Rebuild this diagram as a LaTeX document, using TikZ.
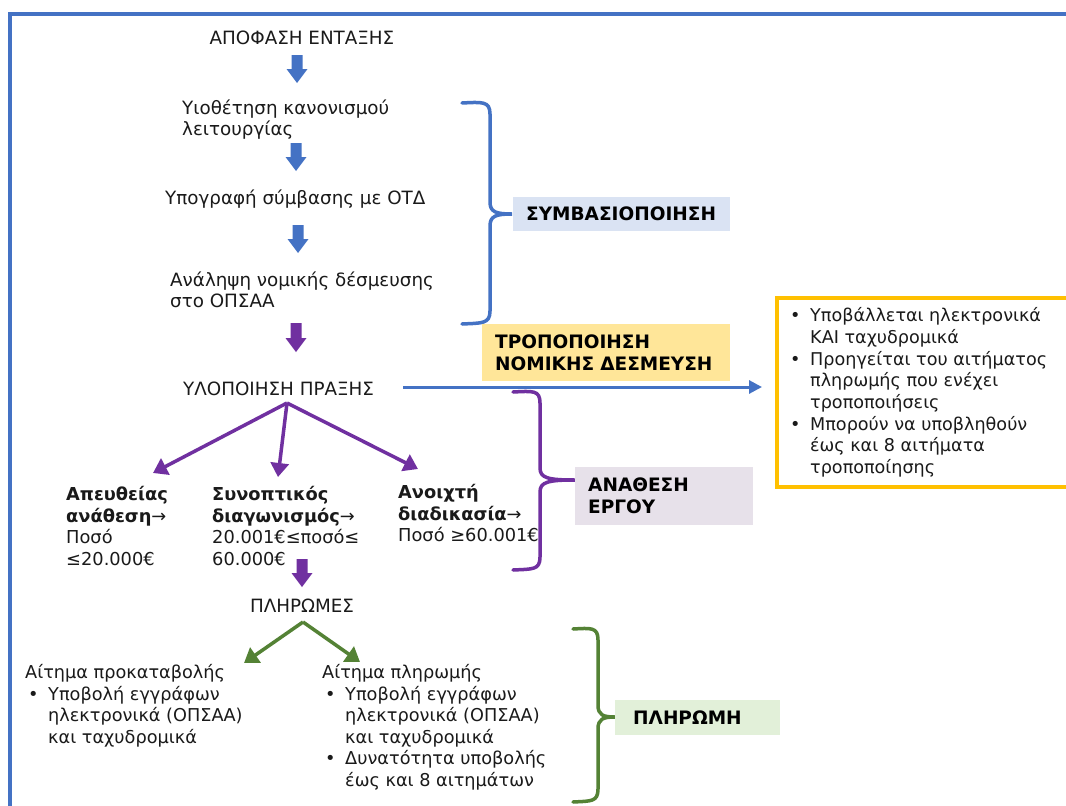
\documentclass[tikz,border=0pt]{standalone}
\usepackage{fontspec}
\setmainfont{DejaVu Sans}
\usetikzlibrary{arrows.meta}
\definecolor{cblue}{HTML}{4472C4}
\definecolor{cpurple}{HTML}{7030A0}
\definecolor{cgreen}{HTML}{548235}
\definecolor{cgold}{HTML}{FFC000}
\definecolor{lblue}{HTML}{DAE3F3}
\definecolor{lyellow}{HTML}{FFE699}
\definecolor{lpurple}{HTML}{E7E1EA}
\definecolor{lgreen}{HTML}{E2F0D9}
\definecolor{txt}{HTML}{1A1A1A}
\newcommand{\blkarrow}[4]{%
  \fill[#4] (#1-5.5,#2) -- (#1+5.5,#2) -- (#1+5.5,#3-14) -- (#1+10.5,#3-14) -- (#1,#3) -- (#1-10.5,#3-14) -- (#1-5.5,#3-14) -- cycle;}
\newcommand{\bul}{\makebox[23pt][l]{\hspace{3pt}•}}
\newcommand{\ind}{\hspace*{23pt}}
\begin{document}
\begin{tikzpicture}[x=1pt,y=-1pt,
  flow/.style={font=\fontsize{18.3}{21.5}\selectfont, text=txt, inner sep=0pt, align=left},
  gflow/.style={font=\fontsize{17.6}{21.7}\selectfont, text=txt, inner sep=0pt, align=left},
  pflow/.style={font=\fontsize{17.8}{21.5}\selectfont, text=txt, inner sep=0pt, align=left},
  bflow/.style={font=\fontsize{17.7}{21.5}\selectfont, text=txt, inner sep=0pt, align=left},
  lab/.style={font=\fontsize{18.5}{22}\selectfont\bfseries, text=black, inner xsep=13pt, inner ysep=0pt, align=left, anchor=north west},
  thin/.style={line width=3.5pt, -{Triangle[length=14pt,width=18pt]}},
  brace/.style={line width=3.5pt, line cap=round}
]
\useasboundingbox (0,0) rectangle (1066,806);
\clip (0,0) rectangle (1066,806);
\fill[white] (0,0) rectangle (1066,806);
% frame
\draw[cblue, line width=4pt] (10,812) -- (10,14) -- (1072,14);

% flow texts
\node[flow, anchor=base] (apof) at (302,44) {ΑΠΟΦΑΣΗ ΕΝΤΑΞΗΣ};
\node[flow, anchor=north west] (yio) at (182,99.5) {Υιοθέτηση κανονισμού\\λειτουργίας};
\node[flow, anchor=base west] (ypo) at (165,204) {Υπογραφή σύμβασης με ΟΤΔ};
\node[flow, anchor=north west] (anal) at (170,271.5) {Ανάληψη νομικής δέσμευσης\\στο ΟΠΣΑΑ};
\node[flow, anchor=base west] (ylo) at (183,395) {ΥΛΟΠΟΙΗΣΗ ΠΡΑΞΗΣ};

% block arrows
\blkarrow{297}{55}{83}{cblue}
\blkarrow{296}{143}{171}{cblue}
\blkarrow{298}{225}{253}{cblue}
\blkarrow{296}{323}{352}{cpurple}
\blkarrow{302}{559}{587}{cpurple}

% braces
\draw[brace, cblue] (462,103) .. controls (482,102) and (490,101) .. (490,114) -- (490,202)
  .. controls (490,212) and (496,214) .. (512,214)
  .. controls (496,214) and (490,216) .. (490,226) -- (490,311)
  .. controls (490,324) and (482,323) .. (462,324);
\draw[brace, cpurple] (513,392) .. controls (533,391) and (540,390) .. (540,403) -- (540,468)
  .. controls (540,478) and (548,480) .. (575,480)
  .. controls (548,480) and (540,482) .. (540,492) -- (540,557)
  .. controls (540,570) and (533,569) .. (513,570);
\draw[brace, cgreen] (573,629) .. controls (591,628) and (598,627) .. (598,640) -- (598,705)
  .. controls (598,715) and (603,717) .. (615,717)
  .. controls (603,717) and (598,719) .. (598,729) -- (598,789)
  .. controls (598,802) and (591,801) .. (573,802);

% labels
\node[lab, fill=lblue, text width=191pt, minimum height=34pt] (symb) at (513,197) {ΣΥΜΒΑΣΙΟΠΟΙΗΣΗ};
\node[lab, fill=lyellow, text width=222pt, minimum height=57pt] (tropo) at (482,324) {ΤΡΟΠΟΠΟΙΗΣΗ\\ΝΟΜΙΚΗΣ ΔΕΣΜΕΥΣΗ};
\node[lab, fill=lpurple, text width=152pt, minimum height=58pt] (anath) at (575,467) {ΑΝΑΘΕΣΗ\\ΕΡΓΟΥ};
\node[lab, fill=lgreen, inner xsep=18pt, text width=129pt, minimum height=35pt] (plirm) at (615,700) {ΠΛΗΡΩΜΗ};

% gold box
\node[draw=cgold, line width=4pt, anchor=north west, minimum width=300pt, minimum height=189pt, inner sep=0pt] (gold) at (775,296) {};
\node[gflow, anchor=north west] (goldtxt) at (787,307.5) {\bul Υποβάλλεται ηλεκτρονικά\\\ind ΚΑΙ ταχυδρομικά\\\bul Προηγείται του αιτήματος\\\ind πληρωμής που ενέχει\\\ind τροποποιήσεις\\\bul Μπορούν να υποβληθούν\\\ind έως και 8 αιτήματα\\\ind τροποποίησης};

% horizontal blue arrow
\coordinate (hs) at (403,387);
\coordinate (he) at (762,387);
\draw[cblue, line width=3pt, -{Triangle[length=13pt,width=13pt]}] (hs) -- (he);

% procurement options
\node[pflow, anchor=north west] (ape) at (66,486.5) {\textbf{Απευθείας}\\\textbf{ανάθεση}→\\Ποσό\\≤20.000€};
\node[pflow, anchor=north west] (syn) at (212,486.5) {\textbf{Συνοπτικός}\\\textbf{διαγωνισμός}→\\20.001€≤ποσό≤\\60.000€};
\node[pflow, anchor=north west] (anoi) at (398,484.5) {\textbf{Ανοιχτή}\\\textbf{διαδικασία}→\\Ποσό ≥60.001€};

\coordinate (yb) at (287,403);
\coordinate (t1) at (153,473);
\coordinate (t2) at (278,477);
\coordinate (t3) at (418,469);
\draw[thin, cpurple] (yb) -- (t1);
\draw[thin, cpurple] (yb) -- (t2);
\draw[thin, cpurple] (yb) -- (t3);

% payments
\node[flow, anchor=base] (plir) at (302,612) {ΠΛΗΡΩΜΕΣ};
\coordinate (pb) at (303,622);
\coordinate (p1) at (244,663);
\coordinate (p2) at (360,662);
\draw[thin, cgreen] (pb) -- (p1);
\draw[thin, cgreen] (pb) -- (p2);

\node[bflow, anchor=north west] (aitp) at (25,664.5) {Αίτημα προκαταβολής\\\bul Υποβολή εγγράφων\\\ind ηλεκτρονικά (ΟΠΣΑΑ)\\\ind και ταχυδρομικά};
\node[bflow, anchor=north west] (aitpl) at (322,664.5) {Αίτημα πληρωμής\\\bul Υποβολή εγγράφων\\\ind ηλεκτρονικά (ΟΠΣΑΑ)\\\ind και ταχυδρομικά\\\bul Δυνατότητα υποβολής\\\ind έως και 8 αιτημάτων};
\end{tikzpicture}
\end{document}
